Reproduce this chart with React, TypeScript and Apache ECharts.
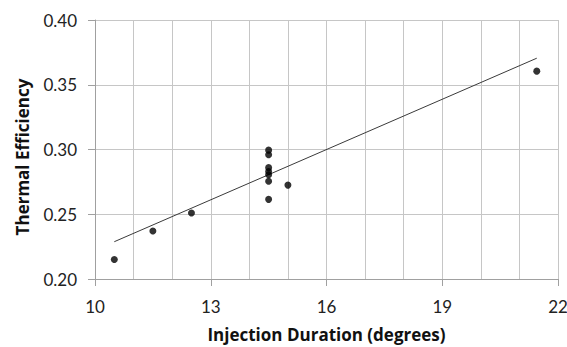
import React, { useEffect, useRef } from "react";
import * as echarts from "echarts";

const durations = [10.5, 11.5, 12.5, 14.5, 14.5, 14.5, 14.5, 14.5, 14.5, 14.5, 15, 21.45];
const efficiencies = [0.215, 0.237, 0.251, 0.2995, 0.296, 0.286, 0.283, 0.2805, 0.2755, 0.2615, 0.2725, 0.3605];
const trendX = [10.5, 21.45];
const trendY = [0.2288, 0.3705];
const xTitle = "Injection Duration (degrees)";
const yTitle = "Thermal Efficiency";

export default function App() {
  const ref = useRef<HTMLDivElement>(null);
  useEffect(() => {
    if (!ref.current) return;
    const chart = echarts.init(ref.current, null, { renderer: "svg" });
    const font = "Lato, 'Open Sans', sans-serif";
    chart.setOption({
      animation: false,
      backgroundColor: "#ffffff",
      grid: { left: 95, right: 9, top: 20, bottom: 68, containLabel: false, outerBoundsMode: "none" },
      xAxis: {
        type: "value",
        min: 10,
        max: 22,
        interval: 3,
        axisLine: { show: true, lineStyle: { color: "#a0a0a0", width: 1 } },
        axisTick: { show: true, length: 7, inside: false, lineStyle: { color: "#a0a0a0" } },
        axisLabel: { color: "#222", fontSize: 17, fontFamily: font, margin: 19 },
        splitLine: { show: true, lineStyle: { color: "#c6c6c6", width: 1 } },
        minorTick: { show: false, splitNumber: 3 },
        minorSplitLine: { show: true, lineStyle: { color: "#c6c6c6", width: 1 } },
        name: xTitle,
        nameLocation: "middle",
        nameGap: 47,
        nameTextStyle: { color: "#111", fontSize: 17, fontWeight: "bold", fontFamily: "'Open Sans', sans-serif" },
      },
      yAxis: {
        type: "value",
        min: 0.2,
        max: 0.4,
        interval: 0.05,
        axisLine: { show: true, lineStyle: { color: "#a0a0a0", width: 1 } },
        axisTick: { show: true, length: 7, inside: false, lineStyle: { color: "#a0a0a0" } },
        axisLabel: {
          color: "#222",
          fontSize: 17,
          fontFamily: font,
          margin: 18,
          formatter: (v: number) => v.toFixed(2),
        },
        splitLine: { show: true, lineStyle: { color: "#c6c6c6", width: 1 } },
      },
      graphic: [
        {
          type: "text",
          x: 22,
          y: 157,
          rotation: Math.PI / 2,
          style: {
            text: yTitle,
            fill: "#111",
            font: "bold 17px 'Open Sans', sans-serif",
            align: "center",
            verticalAlign: "middle",
          },
        },
      ],
      series: [
        {
          type: "line",
          data: trendX.map((x, i) => [x, trendY[i]]),
          symbol: "none",
          lineStyle: { color: "#3a3a3a", width: 1 },
          z: 2,
        },
        {
          type: "scatter",
          data: durations.map((x, i) => [x, efficiencies[i]]),
          symbol: "circle",
          symbolSize: 7,
          itemStyle: { color: "#000" },
          z: 3,
        },
      ],
    });
    return () => chart.dispose();
  }, []);
  return <div ref={ref} style={{ width: 567, height: 347, position: "absolute", left: 0, top: 0 }} />;
}
